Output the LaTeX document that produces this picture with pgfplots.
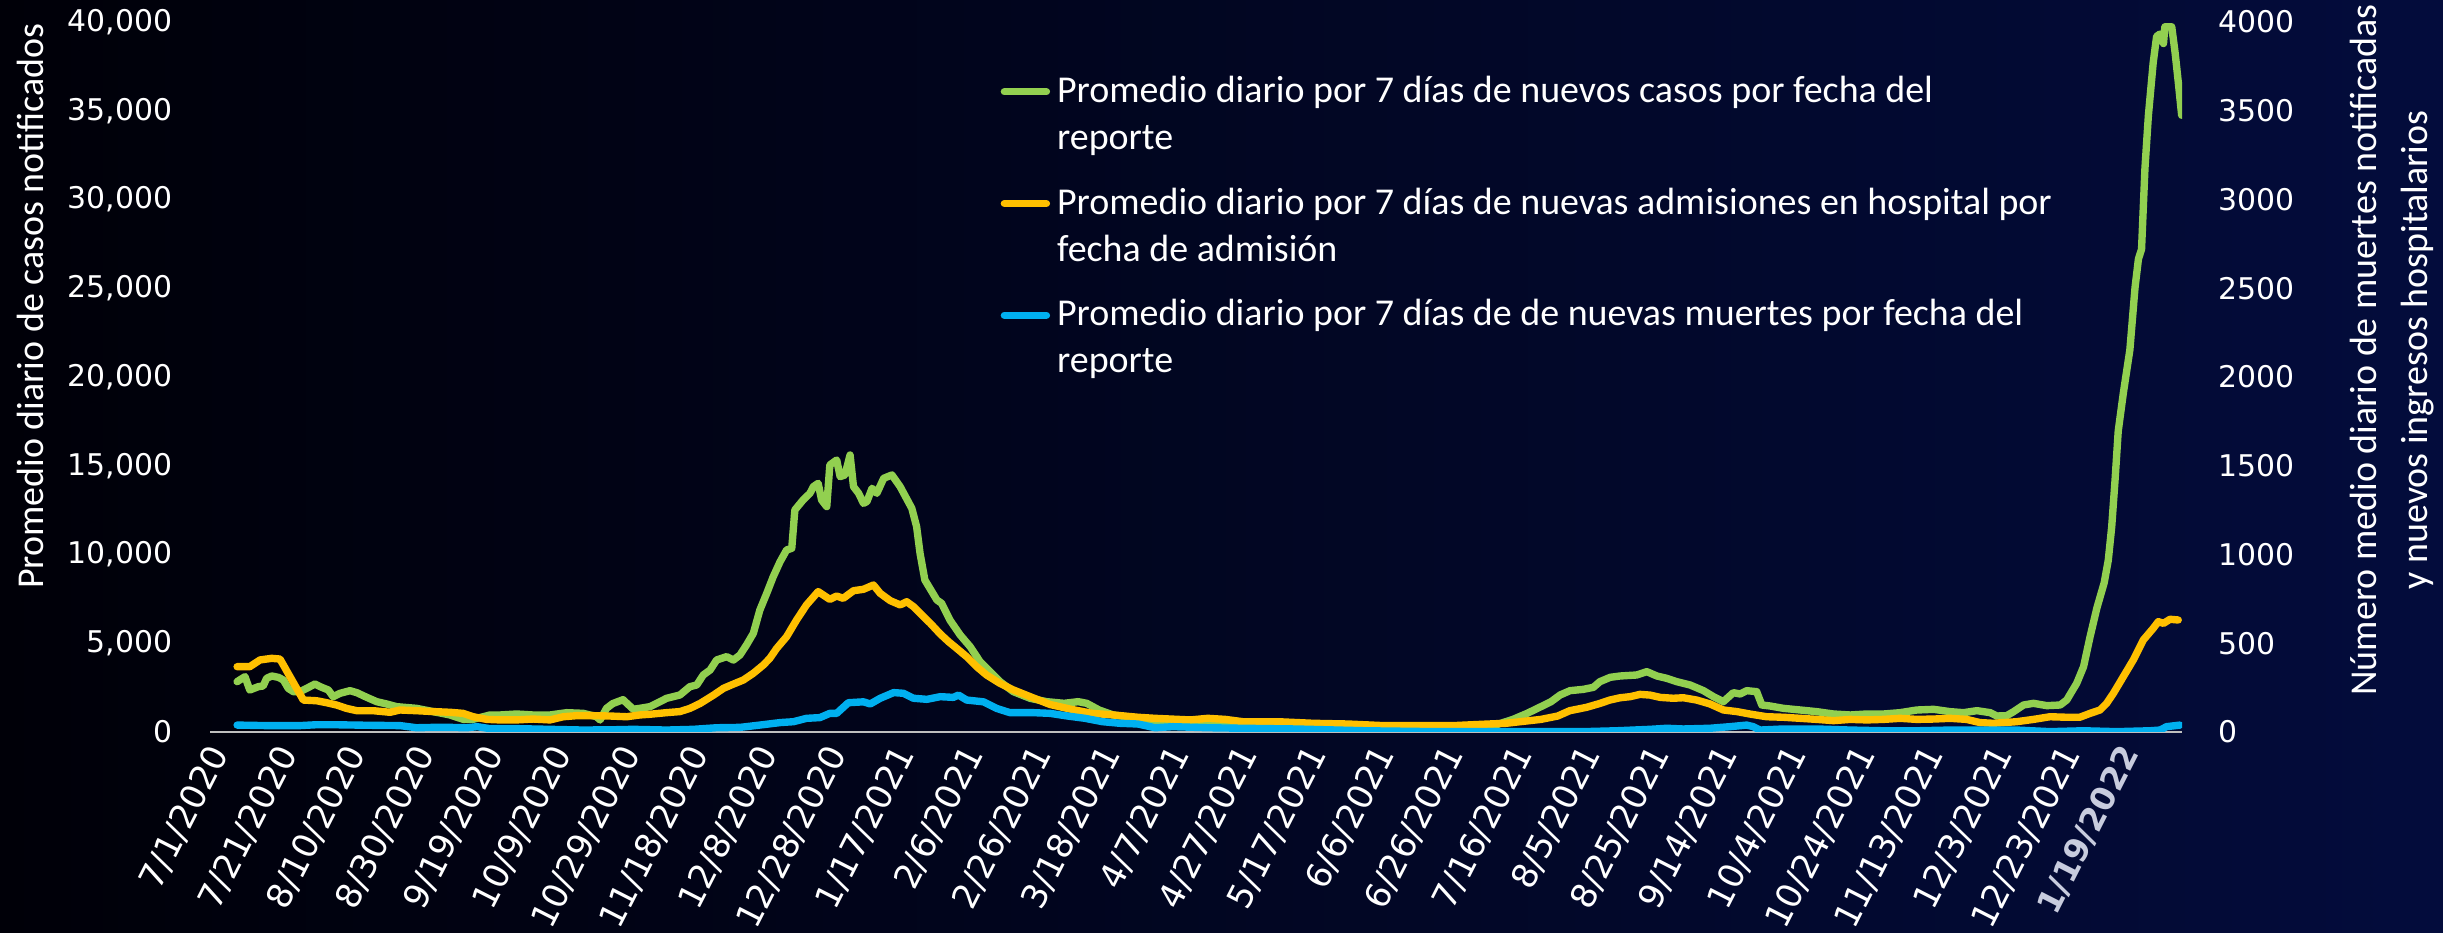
\documentclass[border=0pt]{standalone}
\usepackage{pgfplots}
\pgfplotsset{compat=1.18}
\usepackage{fontspec}
\setmainfont{Carlito}
\newfontfamily\tickfont{DejaVu Sans}

\definecolor{cGreen}{HTML}{92D050}
\definecolor{cOrange}{HTML}{FFC000}
\definecolor{cBlue}{HTML}{00B0F0}
\definecolor{bgL}{RGB}{0,0,8}
\definecolor{bgR}{RGB}{3,12,60}
\definecolor{axGray}{HTML}{BFBFBF}
\definecolor{lastLbl}{RGB}{200,204,222}

% x = days since 7/1/2020
\pgfplotsset{
  base/.style={
    scale only axis, width=19.72cm, height=7.10cm,
    at={(2.10cm,2.01cm)}, anchor=south west,
    xmin=-2.9, xmax=572, ymin=0,
    major tick length=0pt,
    tick style={draw=none},
    ticklabel style={font=\tickfont\fontsize{8.5}{10}\selectfont, text=white},
    /pgf/number format/assume math mode=true,
    scaled y ticks=false,
  },
  ser/.style={line width=2.1pt, line join=round, line cap=round, no markers},
}

\begin{document}
\begin{tikzpicture}
\fill[left color=bgL, right color=bgR] (0,0) rectangle (24.43,9.33);

% left axis: cases
\begin{axis}[base,
  ymax=40000, ytick={0,5000,...,40000},
  axis x line*=bottom, axis y line*=left,
  y axis line style={draw=none},
  x axis line style={axGray, line width=0.8pt, -},
  yticklabel style={inner sep=0pt, xshift=-0.37cm, /pgf/number format/1000 sep={,}},
  xtick={0,20,...,540},
  xticklabels={7/1/2020,7/21/2020,8/10/2020,8/30/2020,9/19/2020,10/9/2020,10/29/2020,11/18/2020,12/8/2020,12/28/2020,1/17/2021,2/6/2021,2/26/2021,3/18/2021,4/7/2021,4/27/2021,5/17/2021,6/6/2021,6/26/2021,7/16/2021,8/5/2021,8/25/2021,9/14/2021,10/4/2021,10/24/2021,11/13/2021,12/3/2021,12/23/2021},
  xticklabel style={rotate=63, anchor=east, inner sep=0pt, font=\tickfont\fontsize{9.8}{11}\selectfont},
  xticklabel shift=0.16cm,
  extra x ticks={557},
  extra x tick labels={\textbf{1/19/2022}},
  extra x tick style={xticklabel style={text=lastLbl, font=\tickfont\fontsize{9.3}{11}\selectfont}},
]
\addplot[ser, cGreen] coordinates {
(5,2836) (7.3,3117) (8.7,2366) (11.2,2554) (12.6,2592) (13.6,3023) (15.1,3155) (17,3080)
(18.5,2930) (19.9,2460) (21.4,2272) (23.3,2272) (25.3,2460) (27.7,2704) (29.2,2554) (31.6,2366)
(33,1990) (35,2178) (37.9,2328) (39.9,2216) (42.8,1953) (45.7,1709) (48.6,1578) (51.5,1427)
(57.3,1333) (62.2,1146) (67.1,958) (70.9,714) (73.8,714) (78.7,958) (81.6,958) (86.5,1014)
(91.3,958) (96.2,958) (101.1,1089) (105.9,1051) (109.8,864) (110.8,676) (112.7,1333) (114.5,1600)
(117.5,1820) (120.5,1280) (122.4,1333) (125.4,1430) (128.3,1709) (130.2,1897) (134.1,2085) (137,2554)
(139,2648) (140.9,3211) (142.9,3493) (144.8,4056) (147.7,4244) (149.7,4056) (151.6,4338) (153.5,4902)
(155.5,5559) (157.4,6873) (159.4,7812) (161.3,8751) (163.3,9596) (165.2,10254) (166.7,10348) (167.6,12507)
(170,13071) (172,13446) (173,13822) (174.4,14010) (175.4,13071) (176.9,12695) (177.8,15043) (179.8,15324)
(180.8,14386) (182.2,14480) (183.7,15606) (184.7,13822) (186.2,13446) (187.6,12883) (188.6,12977) (190.1,13728)
(191.5,13446) (193.5,14292) (195.9,14480) (198.3,13822) (201.7,12601) (203.1,11568) (204.1,10066) (205.5,8564)
(209,7437) (210.4,7249) (212.8,6310) (215.8,5465) (218.7,4808) (221.6,3962) (224.5,3399) (227.4,2836)
(231.3,2272) (236.2,1897) (241,1709) (246.1,1615) (250.2,1709) (252.7,1615) (256.3,1239) (260.4,958)
(267.6,770) (272.6,582) (282.9,394) (288,488) (293.1,394) (303.4,300) (313.6,244) (323.8,207)
(334,244) (344.3,207) (354.4,207) (364.7,244) (371.9,394) (377,714) (381.1,1051) (385.1,1427)
(388,1700) (390.7,2085) (393.6,2329) (397.5,2404) (400.4,2517) (402.3,2836) (405.3,3080) (408.2,3155)
(413,3211) (416,3399) (418.9,3155) (421.8,3023) (424.7,2836) (428.6,2648) (432.5,2329) (435.4,1991)
(438.3,1709) (441.2,2216) (443.2,2141) (445.1,2329) (448,2272) (449.5,1521) (451.9,1465) (455.8,1333)
(460.7,1239) (465.5,1146) (470.4,1014) (475.3,958) (480.1,1014) (485,1014) (489.8,1089) (494.7,1239)
(499.6,1277) (504.4,1146) (508.3,1089) (512.2,1202) (516.1,1089) (518,901) (520.9,920) (522.9,1146)
(525.8,1521) (528.7,1615) (532.6,1484) (536.5,1521) (538.4,1803) (541.3,2742) (543.3,3681) (545.2,5371)
(547.2,7000) (549.3,8400) (550.5,9670) (551.5,11557) (552.5,14253) (553.4,16949) (554.9,19106) (556.8,21532)
(558.3,25037) (559.3,26655) (560.2,27194) (561.2,31777) (562.2,34743) (563.6,37708) (564.6,39191) (565.6,39326)
(566.6,38787) (567,39730) (569,39730) (570,38248) (570.9,36630) (571.9,34743)
};
\end{axis}

% right axis: admissions and deaths
\begin{axis}[base,
  ymax=4000, ytick={0,500,...,4000},
  axis y line*=right, axis x line=none,
  y axis line style={draw=none},
  yticklabel style={inner sep=0pt, xshift=0.36cm, /pgf/number format/1000 sep={}},
  legend cell align=left,
  legend style={at={(0.4006,0.935)}, anchor=north west, draw=none, fill=none,
    text=white, font=\fontsize{10.8}{13.4}\selectfont, cells={align=left},
    row sep=0.19cm, inner sep=0pt},
  legend image code/.code={
    \path[draw=none, fill=none] (0cm,-0.235cm) -- (0.42cm,-0.235cm);
    \draw[#1] (0cm,0.235cm) -- (0.42cm,0.235cm);},
]
\addlegendimage{ser, cGreen}
\addlegendentry{Promedio diario por 7 días de nuevos casos por fecha del\\reporte}
\addplot[ser, cOrange] coordinates {
(5,368) (8.7,368) (11.7,406) (15.1,415) (17.5,411) (24.3,180) (28.2,176) (31.1,165)
(34,152) (36.9,133) (39.9,120) (44.7,120) (49.6,111) (52.5,124) (57.3,120) (62.2,115)
(67.1,111) (70.9,105) (73.8,86) (77.8,71) (81.6,68) (86.5,68) (91.3,73) (96.2,68)
(100.1,86) (104,92) (108.8,92) (113.7,90) (118.6,86) (122.4,96) (125.4,100) (130.2,109)
(134.1,115) (137,133) (140,161) (143.9,208) (146.8,246) (149.7,270) (152.6,293) (155.5,331)
(158.4,377) (160.3,415) (162.3,471) (165.2,537) (168.1,631) (171,716) (174.4,791) (177.8,747)
(179.8,766) (181.7,753) (184.7,796) (187.6,804) (190.5,828) (192.5,781) (195.4,740) (198.3,716)
(200.2,734) (202.2,706) (204.1,669) (207.1,612) (210,552) (212.4,509) (214.8,471) (217.7,424)
(220.6,368) (223.5,321) (227.4,274) (231.3,237) (236.2,199) (242,155) (248.1,128) (254.3,105)
(260.4,96) (267.6,83) (272.6,77) (282.9,68) (288,77) (293.1,71) (298.2,58) (308.5,58)
(318.7,49) (328.9,45) (339.1,36) (349.4,36) (359.6,36) (369.8,45) (374.9,49) (385.1,71)
(390,90) (393.5,120) (398.4,139) (402.3,161) (405.2,180) (408.2,193) (411.1,199) (414,212)
(416.9,208) (419.9,195) (423.7,190) (426.6,193) (430.5,180) (434.4,158) (438.3,124) (442.2,115)
(446.1,101) (450.9,86) (455.8,83) (460.7,77) (465.5,71) (470.4,64) (475.3,71) (480.1,68)
(485,71) (489.8,77) (494.7,71) (499.6,73) (504.4,77) (509.2,71) (513.1,53) (517,49)
(523.8,58) (528.7,71) (533.5,86) (538.4,83) (542.2,83) (545.2,105) (548.1,124) (550,161)
(552,218) (554.9,312) (557.8,406) (560.7,518) (563.6,584) (565.1,622) (566.6,612) (568.5,635)
(570.9,631)
};
\addlegendentry{Promedio diario por 7 días de nuevas admisiones en hospital por\\fecha de admisión}
\addplot[ser, cBlue] coordinates {
(5,39) (13.6,36) (23.3,36) (28.2,41) (33,41) (42.8,38) (52.5,36) (57.3,24)
(62.2,26) (67.1,26) (72,24) (75,30) (78.7,19) (86.5,19) (96.2,15) (106,11)
(115.6,13) (120.5,15) (130.2,11) (138,15) (144.8,24) (151.6,26) (157.4,39) (163.3,53)
(167.2,58) (171,77) (174.9,81) (177.8,105) (179.8,105) (183.2,165) (187.6,170) (189.6,158)
(192.5,190) (196.4,222) (199.3,218) (202.2,190) (206.1,184) (210,199) (213.8,195) (215.3,208)
(217.7,180) (222.6,170) (226.4,133) (230.3,109) (237.1,109) (242,105) (247.1,90) (252.2,77)
(257.3,58) (262.4,49) (267.6,45) (272.6,24) (277.8,30) (288,24) (298.2,21) (313.6,17)
(334,7) (354.4,2) (374.9,2) (387.8,2) (397.5,2) (407.2,7) (416.9,15) (421.8,21)
(426.6,17) (434.4,21) (440.2,30) (445.1,39) (447,30) (449,11) (455.8,17) (465.5,17)
(475.3,11) (485,7) (494.7,7) (504.4,11) (523.8,11) (533.5,2) (543.3,7) (553,2)
(562.7,7) (565.6,11) (567.5,30) (571.4,39)
};
\addlegendentry{Promedio diario por 7 días de de nuevas muertes por fecha del\\reporte}
\end{axis}

\node[rotate=90, text=white, font=\fontsize{10.8}{12}\selectfont] at (0.30,6.27)
  {Promedio diario de casos notificados};
\node[rotate=90, text=white, align=center, font=\fontsize{10.8}{14.5}\selectfont] at (23.92,5.83)
  {Número medio diario de muertes notificadas\\y nuevos ingresos hospitalarios};

\pgfresetboundingbox
\useasboundingbox (0,0) rectangle (24.43,9.33);
\end{tikzpicture}
\end{document}
